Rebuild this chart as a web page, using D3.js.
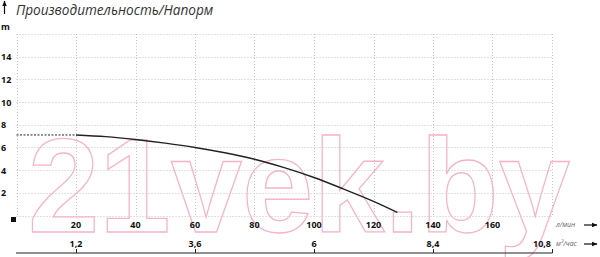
<!DOCTYPE html>
<html><head><meta charset="utf-8">
<script src="https://cdn.jsdelivr.net/npm/d3@7"></script>
<style>html,body{margin:0;padding:0;background:#fff;}svg{display:block;}</style>
</head><body>
<svg id="c" width="600" height="257"></svg>
<script>
const title = "Производительность/Напорм";
const headTicks = [2, 4, 6, 8, 10, 12, 14];
const gridHead = [0, 2, 4, 6, 8, 10, 12, 14, 16];
const lpmTicks = [20, 40, 60, 80, 100, 120, 140, 160];
const gridLpm = [0, 20, 40, 60, 80, 100, 120, 140, 160, 180];
const m3hTicks = [1.2, 3.6, 6, 8.4, 10.8];
const m3hLabels = ["1,2", "3,6", "6", "8,4", "10,8"];
const flowLpm = [0, 20, 30, 40, 50, 60, 70, 80, 90, 100, 110, 120, 128];
const headM   = [7.1, 7.1, 6.95, 6.7, 6.38, 6.0, 5.53, 4.96, 4.22, 3.35, 2.33, 1.25, 0.28];

const svg = d3.select("#c");
const x = d3.scaleLinear().domain([0, 180]).range([16.5, 552]);
const x2 = d3.scaleLinear().domain([0, 10.8]).range([16.5, 552]);
const y = d3.scaleLinear().domain([0, 16]).range([215.5, 34]);
const font = "'Open Sans', 'Liberation Sans', sans-serif";

// grid
const g = svg.append("g").attr("stroke", "#c4c4c4").attr("stroke-width", 1).attr("stroke-dasharray", "1,2");
g.selectAll("line.h").data(gridHead).join("line").attr("class","h")
  .attr("x1", x(0)).attr("x2", x(180)).attr("y1", d => Math.round(y(d)) + 0.5).attr("y2", d => Math.round(y(d)) + 0.5);
g.selectAll("line.v").data(gridLpm).join("line").attr("class","v")
  .attr("y1", y(16)).attr("y2", y(0)).attr("x1", d => Math.round(x(d)) + 0.5).attr("x2", d => Math.round(x(d)) + 0.5);

// watermark
svg.append("text").text("21vek.by")
  .attr("x", 28).attr("y", 232)
  .attr("font-family", "'Liberation Sans', Arial, sans-serif").attr("font-weight", 700)
  .attr("font-size", 134).attr("textLength", 542).attr("lengthAdjust", "spacingAndGlyphs")
  .attr("fill", "none").attr("stroke", "#f6b4c8").attr("stroke-width", 1.3);

// arrow marker
const defs = svg.append("defs");
defs.append("marker").attr("id", "ah").attr("viewBox", "0 0 10 10").attr("refX", 9).attr("refY", 5)
  .attr("markerWidth", 5).attr("markerHeight", 5).attr("orient", "auto")
  .append("path").attr("d", "M0,1 L10,5 L0,9 Z").attr("fill", "#111");

// y-axis arrow and title
svg.append("line").attr("x1", 4.5).attr("x2", 4.5).attr("y1", 14).attr("y2", 1)
  .attr("stroke", "#111").attr("stroke-width", 1.2).attr("marker-end", "url(#ah)");
svg.append("text").text(title).attr("x", 16).attr("y", 14.5)
  .attr("font-family", font).attr("font-style", "italic").attr("font-size", 13.6).attr("fill", "#333");

// y labels
svg.append("text").text("m").attr("x", 1).attr("y", 30)
  .attr("font-family", font).attr("font-weight", 700).attr("font-size", 9).attr("fill", "#111");
svg.selectAll("text.yl").data(headTicks).join("text").attr("class","yl")
  .attr("x", 1).attr("y", d => y(d) + 3.5).text(d => d)
  .attr("font-family", font).attr("font-weight", 700).attr("font-size", 9).attr("fill", "#111");

// black square origin marker
svg.append("rect").attr("x", 11).attr("y", 217).attr("width", 5).attr("height", 5).attr("fill", "#111");

// l/min labels
svg.selectAll("text.xl").data(lpmTicks).join("text").attr("class","xl")
  .attr("x", d => x(d)).attr("y", 227.5).attr("text-anchor", "middle").text(d => d)
  .attr("font-family", font).attr("font-weight", 700).attr("font-size", 9).attr("fill", "#111");

// m3/h axis
svg.append("line").attr("x1", 16).attr("x2", 552.5).attr("y1", 253).attr("y2", 253)
  .attr("stroke", "#222").attr("stroke-width", 1.2);
svg.selectAll("line.tk").data(m3hTicks).join("line").attr("class","tk")
  .attr("x1", d => Math.round(x2(d)) + 0.5).attr("x2", d => Math.round(x2(d)) + 0.5)
  .attr("y1", 249).attr("y2", 253).attr("stroke", "#222").attr("stroke-width", 1);
svg.selectAll("text.x2l").data(m3hTicks).join("text").attr("class","x2l")
  .attr("x", (d, i) => i === m3hTicks.length - 1 ? x2(d) - 1 : x2(d))
  .attr("text-anchor", (d, i) => i === m3hTicks.length - 1 ? "end" : "middle")
  .attr("y", 246.5).text((d, i) => m3hLabels[i])
  .attr("font-family", font).attr("font-weight", 700).attr("font-size", 9).attr("fill", "#111");

// units
const units = [["л/мин", 227], ["м³/час", 246]];
units.forEach(([t, yy]) => {
  svg.append("text").text(t).attr("x", 556).attr("y", yy)
    .attr("font-family", font).attr("font-style", "italic").attr("font-size", 7).attr("fill", "#666");
  svg.append("line").attr("x1", 584).attr("x2", 597).attr("y1", yy - 2).attr("y2", yy - 2)
    .attr("stroke", "#111").attr("stroke-width", 1.2).attr("marker-end", "url(#ah)");
});

// curve
const pts = flowLpm.map((f, i) => [f, headM[i]]);
const line = d3.line().x(d => x(d[0])).y(d => y(d[1])).curve(d3.curveMonotoneX);
svg.append("path").attr("d", line(pts.slice(0, 2))).attr("fill", "none")
  .attr("stroke", "#222").attr("stroke-width", 1).attr("stroke-dasharray", "2,1.5");
svg.append("path").attr("d", line(pts.slice(1))).attr("fill", "none")
  .attr("stroke", "#222").attr("stroke-width", 1.4);
</script>
</body></html>
